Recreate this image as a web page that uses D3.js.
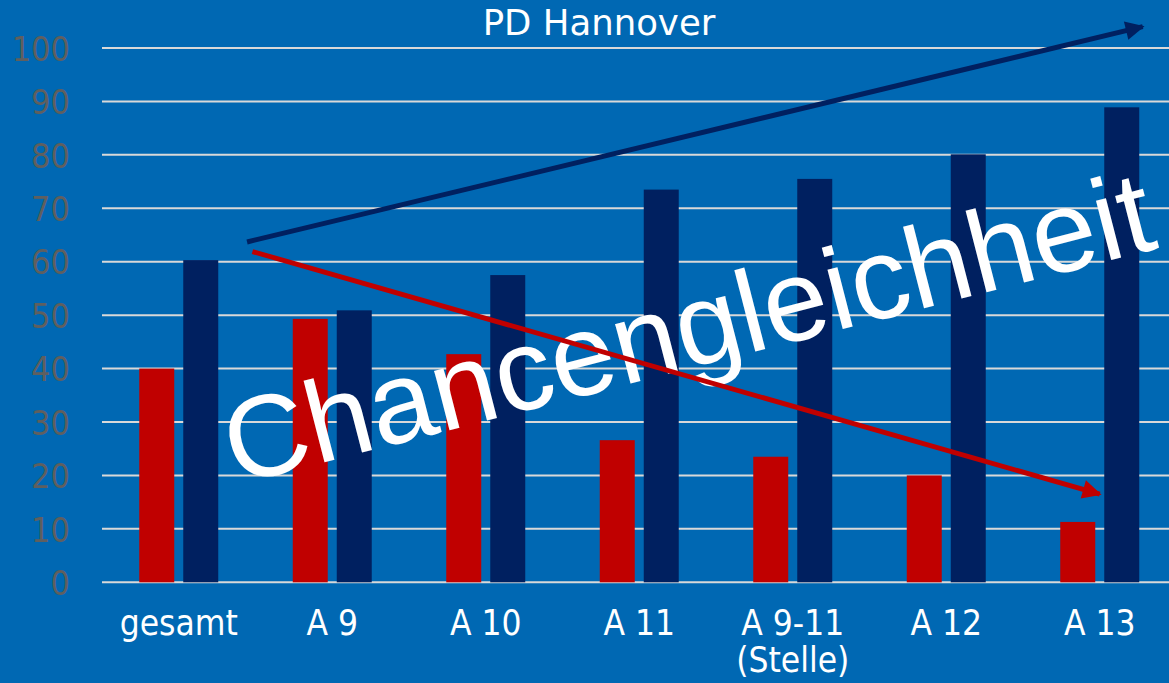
<!DOCTYPE html>
<html>
<head>
<meta charset="utf-8">
<script src="https://cdn.jsdelivr.net/npm/d3@7/dist/d3.min.js"></script>
<style>
  html, body { margin: 0; padding: 0; background: #0068B3; overflow: hidden; }
  svg { display: block; }
</style>
</head>
<body>
<svg id="chart" width="1169" height="683"></svg>
<script>
// ---- data ----
const categories = ["gesamt", "A 9", "A 10", "A 11", "A 9-11\n(Stelle)", "A 12", "A 13"];
const seriesNames = ["Frauen", "Männer"];
const frauen = [40, 49.3, 42.7, 26.6, 23.5, 20, 11.3];
const maenner = [60.3, 50.9, 57.5, 73.5, 75.5, 80.1, 88.9];
const yTicks = [0, 10, 20, 30, 40, 50, 60, 70, 80, 90, 100];
const title = "PD Hannover";
const overlayText = "Chancengleichheit";
// arrows in data units: [band index position (fractional), value]
const arrowUp = [[0.945, 63.7], [6.78, 104]];
const arrowDown = [[0.98, 61.9], [6.5, 16.5]];
const overlayAnchor = [0.87, 18.2];
const overlayAngle = -14.4;

// ---- layout ----
const W = 1169, H = 683;
const mLeft = 102, step = 153.5;
const mTop = 48, mBottom = 582.3;
const svg = d3.select("#chart");
const colors = { Frauen: "#C00000", "Männer": "#002060" };

svg.append("rect").attr("width", W).attr("height", H).attr("fill", "#0068B3");

const x = d3.scaleBand().domain(categories).range([mLeft, mLeft + step * categories.length]).padding(0);
const y = d3.scaleLinear().domain([0, 100]).range([mBottom, mTop]);
const groupW = 79;
const x1 = d3.scaleBand().domain(seriesNames)
  .range([(x.bandwidth() - groupW) / 2, (x.bandwidth() + groupW) / 2])
  .paddingInner(0.2045).paddingOuter(0);
const xi = i => mLeft + i * x.step();

// gridlines
svg.append("g").selectAll("line").data(yTicks).join("line")
  .attr("x1", mLeft).attr("x2", W)
  .attr("y1", d => y(d)).attr("y2", d => y(d))
  .attr("stroke", "#D9D9D9").attr("stroke-width", 2);

// y axis labels
const yAxis = d3.axisLeft(y).tickValues(yTicks).tickSize(0).tickPadding(0);
const gy = svg.append("g").attr("transform", "translate(70,0)").call(yAxis);
gy.select(".domain").remove();
gy.selectAll("text")
  .attr("fill", "#5F5F5F")
  .style("font-family", "'DejaVu Sans Condensed', 'DejaVu Sans', sans-serif")
  .style("font-stretch", "condensed")
  .style("font-size", "34px")
  .attr("dy", "0.36em");

// bars
const rows = categories.map((c, i) => ({ cat: c, values: [
  { key: "Frauen", v: frauen[i] }, { key: "Männer", v: maenner[i] }] }));
const g = svg.append("g").selectAll("g").data(rows).join("g")
  .attr("transform", d => `translate(${x(d.cat)},0)`);
g.selectAll("rect").data(d => d.values).join("rect")
  .attr("x", d => x1(d.key)).attr("width", x1.bandwidth())
  .attr("y", d => y(d.v)).attr("height", d => y(0) - y(d.v))
  .attr("fill", d => colors[d.key]);

// x labels
const xl = svg.append("g").selectAll("text").data(categories).join("text")
  .attr("x", d => x(d) + x.bandwidth() / 2)
  .attr("y", 635)
  .attr("text-anchor", "middle")
  .attr("fill", "#FFFFFF")
  .style("font-family", "'DejaVu Sans Condensed', 'DejaVu Sans', sans-serif")
  .style("font-stretch", "condensed")
  .style("font-size", "35px");
xl.each(function (d) {
  const parts = d.split("\n");
  d3.select(this).selectAll("tspan").data(parts).join("tspan")
    .attr("x", x(d) + x.bandwidth() / 2)
    .attr("dy", (p, i) => i === 0 ? 0 : 37)
    .text(p => p);
});

// title
svg.append("text").attr("x", 599).attr("y", 35).attr("text-anchor", "middle")
  .attr("fill", "#FFFFFF")
  .style("font-family", "'DejaVu Sans', Verdana, sans-serif")
  .style("font-size", "35.5px")
  .text(title);

// arrows
const defs = svg.append("defs");
function marker(id, color) {
  defs.append("marker").attr("id", id).attr("viewBox", "0 0 10 10")
    .attr("refX", 9).attr("refY", 5).attr("markerWidth", 4.6).attr("markerHeight", 3.8)
    .attr("markerUnits", "strokeWidth").attr("orient", "auto")
    .append("path").attr("d", "M0,0 L10,5 L0,10 Z").attr("fill", color);
}
marker("mNavy", "#002060");
marker("mRed", "#C00000");

const line = d3.line().x(d => xi(d[0])).y(d => y(d[1]));

// overlay text
svg.append("text")
  .attr("transform", `translate(${xi(overlayAnchor[0])},${y(overlayAnchor[1])}) rotate(${overlayAngle})`)
  .attr("fill", "#FFFFFF")
  .style("font-family", "'Liberation Sans', Arial, sans-serif")
  .style("font-size", "116px")
  .text(overlayText);

svg.append("path").attr("d", line(arrowUp)).attr("stroke", "#002060")
  .attr("stroke-width", 5).attr("fill", "none").attr("marker-end", "url(#mNavy)");
svg.append("path").attr("d", line(arrowDown)).attr("stroke", "#C00000")
  .attr("stroke-width", 5).attr("fill", "none").attr("marker-end", "url(#mRed)");
</script>
</body>
</html>
